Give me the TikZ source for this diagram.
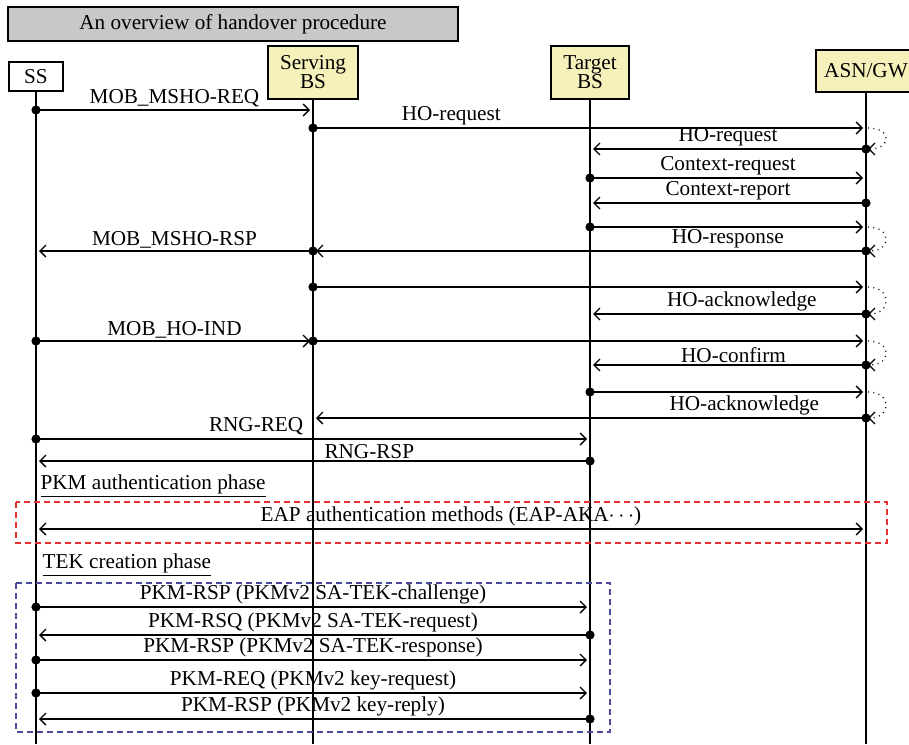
\documentclass[tikz,border=0pt]{standalone}
\usepackage{fontspec}
\setmainfont{Liberation Serif}
\usetikzlibrary{arrows.meta,positioning}
\definecolor{titelgrau}{RGB}{200,200,200}
\definecolor{boxgelb}{RGB}{246,241,186}
\definecolor{authrot}{RGB}{232,48,48}
\definecolor{tekblau}{RGB}{75,75,155}

\begin{document}
\begin{tikzpicture}[x=0.5pt,y=-0.5pt,font=\fontsize{10.6}{12.5}\selectfont,line width=0.65pt,
  teil/.style={draw,fill=boxgelb,align=center,inner sep=0pt,minimum height=26.5pt,font=\fontsize{10.6}{9.5}\selectfont},
  nachricht/.style={-{Straight Barb[length=3pt,width=6pt]},shorten >=1.5pt},
  beschr/.style={above,inner sep=1pt},
  schleife/.style={dash pattern=on 0.5pt off 2.2pt,shorten <=1pt,shorten >=1pt,-{Straight Barb[length=3pt,width=6pt]}}]
\useasboundingbox (0,0) rectangle (909,744);
\coordinate (unten) at (0,744);
%Kopf mit Teilnehmern
\node[draw,fill=titelgrau,minimum width=225pt,minimum height=17pt,inner sep=0pt] (titel) at (233,24) {An overview of handover procedure};
\node[draw,minimum width=27pt,minimum height=14.5pt,inner sep=0pt] (ss) at (36,76.5) {SS};
\node[teil,minimum width=45pt] (sbs) at (313,72.5) {Serving\\BS};
\node[teil,minimum width=39pt] (tbs) at (590,72.5) {Target\\BS};
\node[teil,minimum width=50pt,minimum height=21pt] (asn) at (866,71) {ASN/GW};
\foreach \t in {ss,sbs,tbs,asn}{
\draw (\t) -- (\t |- unten);
}
%Nachrichten: von/nach/y/pos/Text
\foreach \a/\b/\y/\p/\txt in {
  ss/sbs/110/0.5/{MOB\_MSHO-REQ},
  sbs/asn/128/0.25/{HO-request},
  asn/tbs/149/0.5/{HO-request},
  tbs/asn/178/0.5/{Context-request},
  asn/tbs/203/0.5/{Context-report},
  tbs/asn/227/0.5/{},
  asn/sbs/251/0.25/{HO-response},
  sbs/ss/251/0.5/{MOB\_MSHO-RSP},
  sbs/asn/287/0.5/{},
  asn/tbs/314/0.45/{HO-acknowledge},
  ss/sbs/341/0.5/{MOB\_HO-IND},
  sbs/asn/341/0.5/{},
  asn/tbs/365/0.48/{HO-confirm},
  tbs/asn/392/0.5/{},
  asn/sbs/418/0.22/{HO-acknowledge},
  ss/tbs/607/0.5/{PKM-RSP (PKMv2 SA-TEK-challenge)},
  tbs/ss/635/0.5/{PKM-RSQ (PKMv2 SA-TEK-request)},
  ss/tbs/660/0.5/{PKM-RSP (PKMv2 SA-TEK-response)},
  ss/tbs/693/0.5/{PKM-REQ (PKMv2 key-request)},
  tbs/ss/719/0.5/{PKM-RSP (PKMv2 key-reply)}}{
\fill (\a |- 0,\y) circle (2.3pt);
\draw[nachricht] (\a |- 0,\y) -- node[beschr,pos=\p] {\txt} (\b |- 0,\y);
}
%Schleifen am ASN/GW
\foreach \y/\z in {128/149,227/251,287/314,341/365,392/418}{
\draw[schleife] (asn |- 0,\y) .. controls +(26,0) and +(26,0) .. (asn |- 0,\z);
}
\fill (ss |- 0,439) circle (2.3pt);
\draw[nachricht] (ss |- 0,439) -- node[pos=0.489,anchor=south east,inner sep=1.5pt] {RNG-REQ} (tbs |- 0,439);
\fill (tbs |- 0,461) circle (2.3pt);
\draw[nachricht] (tbs |- 0,461) -- node[pos=0.484,anchor=south west,inner sep=1pt] {RNG-RSP} (ss |- 0,461);
%Phasen
\node[anchor=west,inner sep=0pt] (pkm) at (40,486) {\underline{PKM authentication phase}};
\draw[authrot,dash pattern=on 3pt off 2pt] (16,502) rectangle (887,543);
\draw[{Straight Barb[length=3pt,width=6pt]}-{Straight Barb[length=3pt,width=6pt]},shorten <=1.5pt,shorten >=1.5pt] (ss |- 0,529) -- node[beschr] {EAP authentication methods (EAP-AKA$\cdots$)} (asn |- 0,529);
\node[anchor=west,inner sep=0pt] (tek) at (42,565) {\underline{TEK creation phase}};
\draw[tekblau,dash pattern=on 3pt off 2pt] (16,583) rectangle (610,732);
\end{tikzpicture}
\end{document}
